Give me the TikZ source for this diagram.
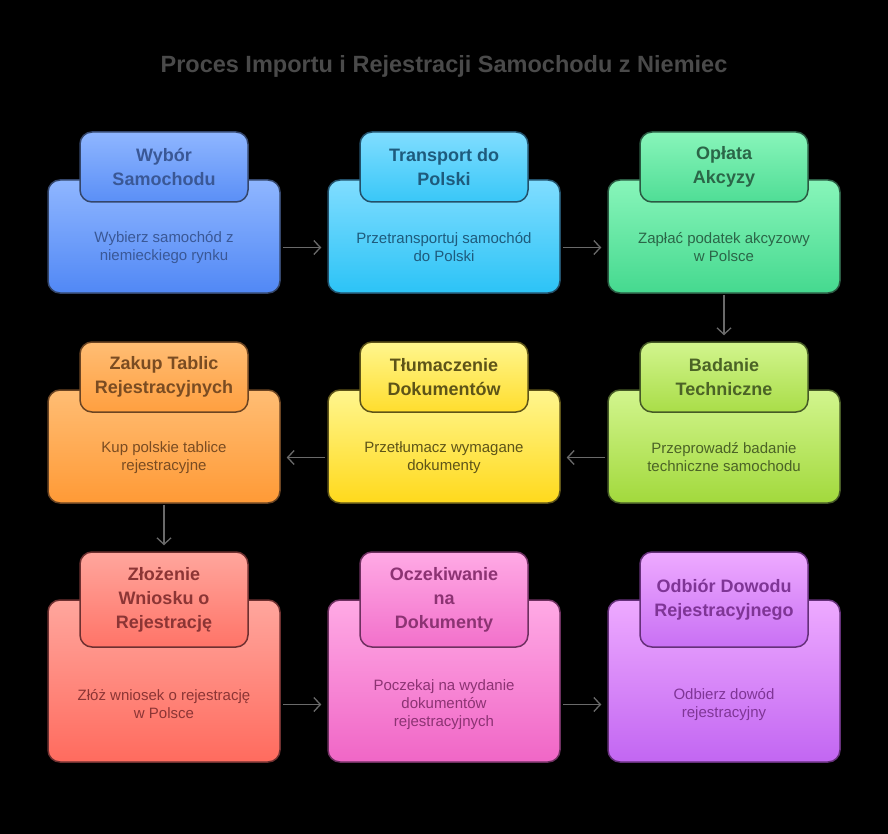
\documentclass[tikz,border=0pt]{standalone}
\usepackage{fontspec}
\setmainfont{Liberation Sans}
\usetikzlibrary{arrows.meta}

\definecolor{atop}{HTML}{8FB6FF}\definecolor{abot}{HTML}{5188F5}\definecolor{atxt}{HTML}{3A5896}\definecolor{abrd}{HTML}{34466B}
\definecolor{btop}{HTML}{80DDFF}\definecolor{bbot}{HTML}{2CC3F6}\definecolor{btxt}{HTML}{1E5B7D}\definecolor{bbrd}{HTML}{22506A}
\definecolor{ctop}{HTML}{88F5BA}\definecolor{cbot}{HTML}{45D98F}\definecolor{ctxt}{HTML}{2B6648}\definecolor{cbrd}{HTML}{2A5A42}
\definecolor{dtop}{HTML}{D2F58E}\definecolor{dbot}{HTML}{A2D93C}\definecolor{dtxt}{HTML}{4B6326}\definecolor{dbrd}{HTML}{465A26}
\definecolor{etop}{HTML}{FFF68E}\definecolor{ebot}{HTML}{FFD91C}\definecolor{etxt}{HTML}{5E5418}\definecolor{ebrd}{HTML}{5E5418}
\definecolor{ftop}{HTML}{FFBD74}\definecolor{fbot}{HTML}{FF9A36}\definecolor{ftxt}{HTML}{7A4C22}\definecolor{fbrd}{HTML}{6B4422}
\definecolor{gtop}{HTML}{FFA69D}\definecolor{gbot}{HTML}{FF6B5E}\definecolor{gtxt}{HTML}{8C3535}\definecolor{gbrd}{HTML}{6E3030}
\definecolor{htop}{HTML}{FFAAE5}\definecolor{hbot}{HTML}{F066C6}\definecolor{htxt}{HTML}{8C3373}\definecolor{hbrd}{HTML}{6E3060}
\definecolor{itop}{HTML}{EEAAFF}\definecolor{ibot}{HTML}{C266F2}\definecolor{itxt}{HTML}{7F3596}\definecolor{ibrd}{HTML}{65307A}
\definecolor{arrgray}{HTML}{6A6A6A}
\definecolor{titlegray}{HTML}{4A4A4A}

\newcommand{\titlefont}{\fontsize{18}{24}\selectfont\bfseries}
\newcommand{\descfont}{\fontsize{15}{18}\selectfont}

\tikzset{
  boxbase/.style={rounded corners=12pt, line width=1.5pt, inner sep=0pt},
  arr/.style={draw=arrgray, line width=1.3pt, -{Straight Barb[length=6.5pt,width=14pt]}, shorten >=6pt, shorten <=2pt},
  varr/.style={draw=arrgray, line width=1.3pt, -{Straight Barb[length=6.5pt,width=14pt]}, shorten >=6pt, shorten <=1pt},
}

% #1 name, #2 cx, #3 tab top, #4 tab bottom, #5 body bottom, #6 colour key, #7 title, #8 description
\newcommand{\procstep}[8]{%
  \pgfmathsetmacro{\psBT}{#3+48}%
  \pgfmathsetmacro{\psBM}{(\psBT+#5)/2}%
  \pgfmathsetmacro{\psBH}{#5-\psBT}%
  \pgfmathsetmacro{\psTM}{(#3+#4)/2}%
  \pgfmathsetmacro{\psTH}{#4-#3}%
  \pgfmathsetmacro{\psDM}{(#4+#5)/2}%
  \node[boxbase, draw=#6brd, top color=#6top, bottom color=#6bot,
        minimum width=232pt, minimum height=\psBH pt] (#1body) at (#2,\psBM) {};
  \node[boxbase, draw=#6brd, top color=#6top, bottom color=#6bot!85!#6top,
        minimum width=168pt, minimum height=\psTH pt, text=#6txt,
        font=\titlefont, align=center] (#1tab) at (#2,\psTM) {#7};
  \node[text=#6txt, font=\descfont, align=center, inner sep=0pt] (#1desc) at (#2,\psDM) {#8};
}

\begin{document}
\begin{tikzpicture}[x=1pt,y=-1pt]
  \fill[black] (0,0) rectangle (888,834);
  \useasboundingbox (0,0) rectangle (888,834);

  \node[font=\fontsize{23.5}{28}\selectfont\bfseries, text=titlegray] (title) at (444,66)
    {Proces Importu i Rejestracji Samochodu z Niemiec};

  \procstep{s1}{164}{132}{202}{293}{a}{Wybór\\Samochodu}{Wybierz samochód z\\niemieckiego rynku}
  \procstep{s2}{444}{132}{202}{293}{b}{Transport do\\Polski}{Przetransportuj samochód\\do Polski}
  \procstep{s3}{724}{132}{202}{293}{c}{Opłata\\Akcyzy}{Zapłać podatek akcyzowy\\w Polsce}
  \procstep{s4}{724}{342}{412}{503}{d}{Badanie\\Techniczne}{Przeprowadź badanie\\techniczne samochodu}
  \procstep{s5}{444}{342}{412}{503}{e}{Tłumaczenie\\Dokumentów}{Przetłumacz wymagane\\dokumenty}
  \procstep{s6}{164}{342}{412}{503}{f}{Zakup Tablic\\Rejestracyjnych}{Kup polskie tablice\\rejestracyjne}
  \procstep{s7}{164}{552}{647}{762}{g}{Złożenie\\Wniosku o\\Rejestrację}{Złóż wniosek o rejestrację\\w Polsce}
  \procstep{s8}{444}{552}{647}{762}{h}{Oczekiwanie\\na\\Dokumenty}{Poczekaj na wydanie\\dokumentów\\rejestracyjnych}
  \procstep{s9}{724}{552}{647}{762}{i}{Odbiór Dowodu\\Rejestracyjnego}{Odbierz dowód\\rejestracyjny}

  \draw[arr] (s1body.east |- s1desc) -- (s2body.west |- s1desc);
  \draw[arr] (s2body.east |- s2desc) -- (s3body.west |- s2desc);
  \draw[varr] (s3body.south) -- (s4tab.north);
  \draw[arr] (s4body.west |- s4desc) -- (s5body.east |- s4desc);
  \draw[arr] (s5body.west |- s5desc) -- (s6body.east |- s5desc);
  \draw[varr] (s6body.south) -- (s7tab.north);
  \draw[arr] (s7body.east |- s7desc) -- (s8body.west |- s7desc);
  \draw[arr] (s8body.east |- s8desc) -- (s9body.west |- s8desc);
\end{tikzpicture}
\end{document}
